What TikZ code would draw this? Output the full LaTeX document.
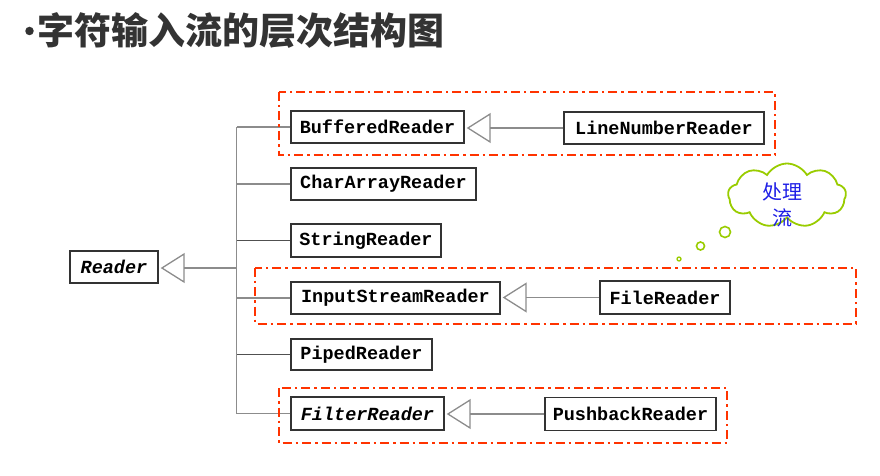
\documentclass[tikz,border=0pt]{standalone}
\usepackage{fontspec}
\usetikzlibrary{arrows.meta,shapes.symbols}
\newfontfamily\monof{Liberation Mono}
\newfontfamily\cjk{Noto Sans CJK SC}
\definecolor{boxline}{HTML}{333333}
\definecolor{connline}{HTML}{8C8C8C}
\definecolor{darkline}{HTML}{505050}
\definecolor{redline}{HTML}{FF3300}
\definecolor{cloudline}{HTML}{99CC00}
\definecolor{cloudtext}{HTML}{1E1EE6}
\definecolor{titlecol}{HTML}{333333}
\tikzset{
  cls/.style={draw=boxline, line width=1.4pt, fill=white, inner sep=0pt,
    minimum height=32pt, align=center, font=\monof\bfseries\fontsize{18.5}{18.5}\selectfont},
  conn/.style={draw=connline, line width=1.5pt},
  dconn/.style={draw=darkline, line width=1.4pt},
  inherit/.style={conn, -{Triangle[open, length=24pt, width=30pt, line width=1.3pt]}, shorten >=2pt},
  grp/.style={draw=redline, line width=2pt, dash pattern=on 9pt off 4pt on 2.5pt off 4pt},
  bubble/.style={circle, draw=cloudline, line width=1.6pt, inner sep=0pt}
}
\begin{document}
\begin{tikzpicture}[x=1pt, y=-1pt]
\useasboundingbox (0,0) rectangle (880,476);

% title
\node[circle, fill=titlecol, inner sep=0pt, minimum size=8.5pt] (bul) at (29.5,31) {};
\node[anchor=west, inner sep=0pt, text=titlecol, font=\cjk\bfseries\fontsize{37}{37}\selectfont] (title) at (37.5,30) {字符输入流的层次结构图};

% classes
\node[cls, minimum width=88pt, font=\monof\bfseries\itshape\fontsize{18.5}{18.5}\selectfont] (reader) at (114,267) {Reader};
\node[cls, minimum width=173pt] (buf) at (377.5,127) {BufferedReader};
\node[cls, minimum width=200pt] (lnr) at (664,128) {LineNumberReader};
\node[cls, minimum width=185pt] (car) at (383.5,184) {CharArrayReader};
\node[cls, minimum width=150pt, minimum height=33pt] (str) at (366,240.5) {StringReader};
\node[cls, minimum width=209pt] (isr) at (395.5,298) {InputStreamReader};
\node[cls, minimum width=130pt, minimum height=33pt] (fr) at (665,297.5) {FileReader};
\node[cls, minimum width=141pt, minimum height=31pt] (pip) at (361.5,354.5) {PipedReader};
\node[cls, minimum width=153pt, minimum height=33pt, font=\monof\bfseries\itshape\fontsize{18.5}{18.5}\selectfont] (fil) at (367.5,413.5) {FilterReader};
\node[cls, minimum width=171pt, minimum height=33pt] (pbr) at (630.5,414) {PushbackReader};

% tree connectors
\coordinate (J) at (236.5,268);
\draw[inherit] (J) -- (J -| reader.east);
\draw[conn] (buf.west -| J) -- (fil.west -| J);
\draw[conn] (buf.west) -- (buf.west -| J);
\draw[conn] (car.west) -- (car.west -| J);
\draw[dconn] (str.west) -- (str.west -| J);
\draw[conn] (isr.west) -- (isr.west -| J);
\draw[dconn] (pip.west) -- (pip.west -| J);
\draw[conn] (fil.west) -- (fil.west -| J);

% inheritance arrows
\draw[inherit] (lnr.west) -- (lnr.west -| buf.east);
\draw[inherit] (fr.west) -- (fr.west -| isr.east);
\draw[inherit] (pbr.west) -- (pbr.west -| fil.east);

% groups
\draw[grp] (279,92) rectangle (775,155);
\draw[grp] (255,267.5) rectangle (855.5,323.5);
\draw[grp] (279,388) rectangle (727,443);

% thought cloud
\node[cloud, cloud puffs=9, cloud puff arc=120, aspect=1.9, draw=cloudline, line width=1.8pt,
      minimum width=118pt, minimum height=64pt, inner sep=0pt] (cl) at (787,195.5) {};
\node[text=cloudtext, align=center, inner sep=0pt, font=\cjk\fontsize{20}{26}\selectfont] (cltext) at (782,205) {处理\\流};
\node[bubble, minimum size=11pt] (b1) at (725,232) {};
\node[bubble, minimum size=8pt] (b2) at (700.5,246) {};
\node[bubble, minimum size=4pt, line width=1.3pt] (b3) at (679,259) {};
\end{tikzpicture}
\end{document}
